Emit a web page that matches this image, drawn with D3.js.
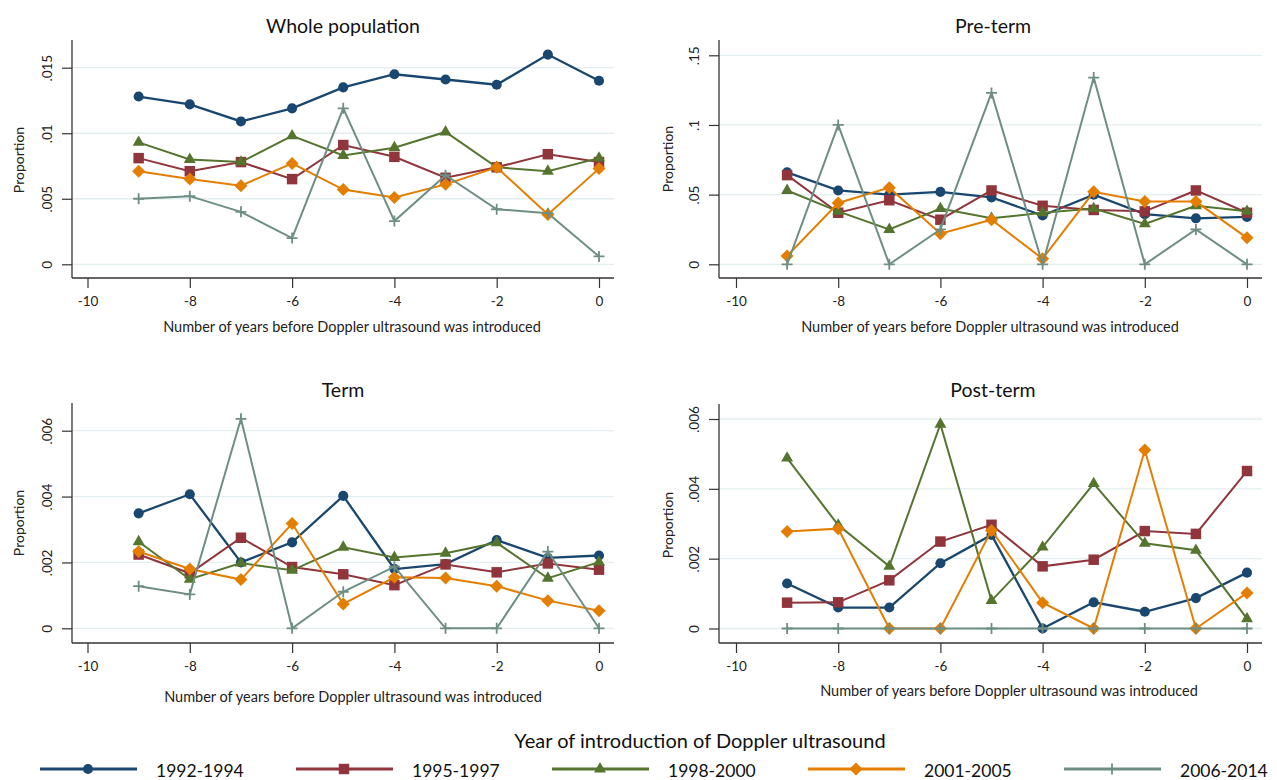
<!DOCTYPE html>
<html>
<head>
<meta charset="utf-8">
<script src="https://cdn.jsdelivr.net/npm/d3@7"></script>
<style>
  body { margin: 0; background: #fff; }
  svg { display: block; font-family: Lato, "Open Sans", sans-serif; }
</style>
</head>
<body>
<svg id="chart" width="1277" height="780"></svg>
<script>
// years before introduction (x values)
var years = [-9, -8, -7, -6, -5, -4, -3, -2, -1, 0];
var periods = ['1992-1994', '1995-1997', '1998-2000', '2001-2005', '2006-2014'];
var colors = ['#1a476f', '#90353b', '#55752f', '#e37e00', '#6e8e84'];
var shapes = ['circle', 'square', 'triangle', 'diamond', 'plus'];
var xTicks = [-10, -8, -6, -4, -2, 0];

// one row per period, in the order of `periods`
var wholePop = [
  [.0128, .0122, .0109, .0119, .0135, .0145, .0141, .0137, .0160, .0140],
  [.0081, .0071, .0078, .0065, .0091, .0082, .0066, .0074, .0084, .0078],
  [.0093, .0080, .0078, .0098, .0083, .0089, .0101, .0074, .0071, .0081],
  [.0071, .0065, .0060, .0077, .0057, .0051, .0061, .0074, .0038, .0073],
  [.0050, .0052, .0040, .0020, .0119, .0033, .0068, .0042, .0039, .0006]
];
var preTerm = [
  [.066, .053, .050, .052, .048, .035, .050, .036, .033, .034],
  [.064, .037, .046, .032, .053, .042, .039, .038, .053, .037],
  [.053, .038, .025, .040, .033, .037, .040, .029, .042, .038],
  [.006, .044, .055, .022, .032, .004, .052, .045, .045, .019],
  [0, .100, 0, .025, .123, 0, .134, 0, .025, 0]
];
var term = [
  [.00349, .00407, .00200, .00261, .00402, .00180, .00195, .00268, .00214, .00221],
  [.00224, .00167, .00275, .00186, .00164, .00131, .00194, .00170, .00197, .00178],
  [.00263, .00149, .00198, .00176, .00246, .00215, .00228, .00260, .00152, .00201],
  [.00233, .00180, .00148, .00318, .00074, .00155, .00153, .00128, .00084, .00053],
  [.00128, .00103, .00636, 0, .00111, .00187, 0, 0, .00233, 0]
];
var postTerm = [
  [.00129, .00060, .00060, .00187, .00268, 0, .00075, .00048, .00087, .00160],
  [.00074, .00075, .00138, .00249, .00297, .00178, .00197, .00279, .00271, .00451],
  [.00488, .00296, .00178, .00585, .00080, .00233, .00415, .00244, .00224, .00028],
  [.00278, .00286, 0, 0, .00281, .00074, 0, .00511, 0, .00102],
  [0, 0, 0, 0, 0, 0, 0, 0, 0, 0]
];

var wholeTicks = [0, .005, .01, .015];
var preTicks = [0, .05, .1, .15];
var termTicks = [0, .002, .004, .006];
var postTicks = [0, .002, .004, .006];

var xTitle = 'Number of years before Doppler ultrasound was introduced';

var panels = [
  { title: 'Whole population', data: wholePop, ticks: wholeTicks,
    left: 72, right: 614, top: 40, bottom: 278, x0: 87.5, x1: 599, y0: 264.3, y1: 67.7,
    titleX: 343, titleY: 25, xlabX: 352, xlabY: 326, ylabX: 18, ylabY: 160 },
  { title: 'Pre-term', data: preTerm, ticks: preTicks,
    left: 719, right: 1262, top: 40, bottom: 278, x0: 736, x1: 1247, y0: 264.3, y1: 55.3,
    titleX: 993, titleY: 25, xlabX: 990, xlabY: 326, ylabX: 667, ylabY: 159 },
  { title: 'Term', data: term, ticks: termTicks,
    left: 72, right: 614, top: 403, bottom: 643, x0: 87.5, x1: 599, y0: 628.3, y1: 430.7,
    titleX: 343, titleY: 389, xlabX: 353, xlabY: 696, ylabX: 18, ylabY: 523 },
  { title: 'Post-term', data: postTerm, ticks: postTicks,
    left: 719, right: 1262, top: 404, bottom: 643, x0: 736, x1: 1247, y0: 628.5, y1: 419,
    titleX: 993, titleY: 389, xlabX: 1009, xlabY: 690, ylabX: 667, ylabY: 525 }
];

var svg = d3.select('#chart');
var fmt = function(v) { return String(v).replace(/^0\./, '.'); };

function marker(sel, shape, color) {
  if (shape === 'plus') {
    sel.append('path').attr('d', 'M-5.5,0H5.5M0,-5.5V5.5')
      .attr('stroke', color).attr('stroke-width', 1.8).attr('fill', 'none');
    return;
  }
  if (shape === 'diamond') {
    sel.append('path').attr('d', 'M0,-6.5L6.5,0L0,6.5L-6.5,0Z').attr('fill', color);
    return;
  }
  var sym = { circle: [d3.symbolCircle, 80], square: [d3.symbolSquare, 110],
              triangle: [d3.symbolTriangle, 62] }[shape];
  sel.append('path').attr('d', d3.symbol(sym[0], sym[1])).attr('fill', color);
}

panels.forEach(function(p) {
  var g = svg.append('g');
  var x = d3.scaleLinear().domain([-10, 0]).range([p.x0, p.x1]);
  var yMax = p.ticks[p.ticks.length - 1];
  var y = d3.scaleLinear().domain([0, yMax]).range([p.y0, p.y1]);

  // gridlines
  g.selectAll('.grid').data(p.ticks).enter().append('line')
    .attr('x1', p.left).attr('x2', p.right)
    .attr('y1', function(d) { return y(d); }).attr('y2', function(d) { return y(d); })
    .attr('stroke', '#e4eef0').attr('stroke-width', 1.3);

  // axes
  var ya = g.append('g').attr('transform', 'translate(' + p.left + ',0)')
    .call(d3.axisLeft(y).tickValues(p.ticks).tickFormat(fmt).tickSize(10).tickPadding(0));
  ya.select('.domain').remove();
  ya.selectAll('line').attr('stroke', '#333').attr('stroke-width', 1.2);
  ya.selectAll('text')
    .attr('x', 0).attr('y', 0).attr('dy', null)
    .attr('transform', 'translate(-25,0) rotate(-90)')
    .attr('text-anchor', 'middle').attr('dominant-baseline', 'central')
    .attr('fill', '#222').style('font-size', '13.5px').style('font-family', 'Lato, sans-serif');

  var xa = g.append('g').attr('transform', 'translate(0,' + p.bottom + ')')
    .call(d3.axisBottom(x).tickValues(xTicks).tickFormat(function(d) { return String(d); })
      .tickSize(10).tickPadding(8));
  xa.select('.domain').remove();
  xa.selectAll('line').attr('stroke', '#333').attr('stroke-width', 1.2);
  xa.selectAll('text').attr('fill', '#222').style('font-size', '13.5px')
    .style('font-family', 'Lato, sans-serif');

  g.append('line').attr('x1', p.left).attr('x2', p.left).attr('y1', p.top).attr('y2', p.bottom)
    .attr('stroke', '#333').attr('stroke-width', 1.3);
  g.append('line').attr('x1', p.left).attr('x2', p.right).attr('y1', p.bottom).attr('y2', p.bottom)
    .attr('stroke', '#333').attr('stroke-width', 1.3);

  // titles
  g.append('text').attr('x', p.titleX).attr('y', p.titleY).attr('dominant-baseline', 'central')
    .attr('text-anchor', 'middle').attr('fill', '#111').style('font-size', '19.5px').text(p.title);
  g.append('text').attr('x', p.xlabX).attr('y', p.xlabY).attr('dominant-baseline', 'central')
    .attr('text-anchor', 'middle').attr('fill', '#222').style('font-size', '14.5px').text(xTitle);
  g.append('text').attr('transform', 'translate(' + p.ylabX + ',' + p.ylabY + ') rotate(-90)')
    .attr('dominant-baseline', 'central').attr('text-anchor', 'middle')
    .attr('fill', '#222').style('font-size', '14px').text('Proportion');

  // series
  var line = d3.line().x(function(d, i) { return x(years[i]); }).y(function(d) { return y(d); });
  p.data.forEach(function(vals, si) {
    var s = g.append('g');
    s.append('path').attr('d', line(vals)).attr('fill', 'none')
      .attr('stroke', colors[si]).attr('stroke-width', si === 0 ? 2.3 : 2);
    vals.forEach(function(v, i) {
      var m = s.append('g').attr('transform', 'translate(' + x(years[i]) + ',' + y(v) + ')');
      marker(m, shapes[si], colors[si]);
    });
  });
});

// legend
svg.append('text').attr('x', 700).attr('y', 740).attr('dominant-baseline', 'central')
  .attr('text-anchor', 'middle').attr('fill', '#111').style('font-size', '20px')
  .text('Year of introduction of Doppler ultrasound');

periods.forEach(function(name, i) {
  var lx = 40 + i * 256;
  var lg = svg.append('g').attr('transform', 'translate(' + lx + ',769)');
  lg.append('line').attr('x1', 0).attr('x2', 97).attr('stroke', colors[i]).attr('stroke-width', 3);
  var m = lg.append('g').attr('transform', 'translate(48,0)');
  marker(m, shapes[i], colors[i]);
  lg.append('text').attr('x', 116).attr('y', 1).attr('dominant-baseline', 'central')
    .attr('fill', '#111').style('font-size', '17.5px').text(name);
});
</script>
</body>
</html>
